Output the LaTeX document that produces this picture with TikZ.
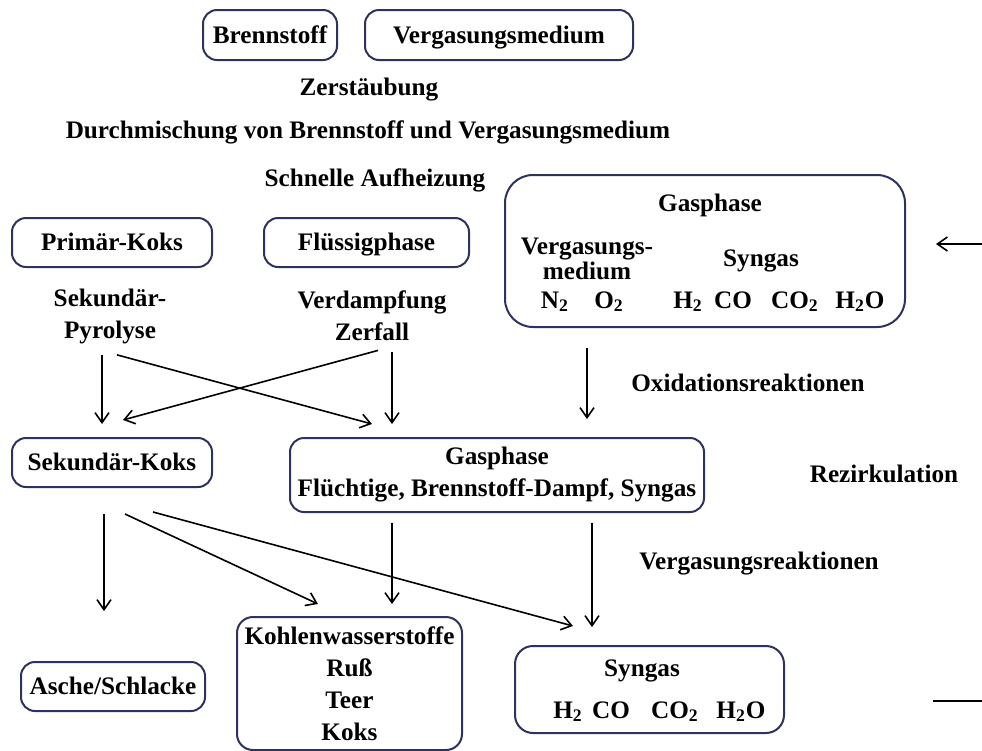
\documentclass[tikz,border=0pt]{standalone}
\usepackage{fontspec}
\setmainfont{Liberation Serif}
\usetikzlibrary{arrows.meta}
\definecolor{boxcolor}{RGB}{45,50,95}

\begin{document}
\begin{tikzpicture}[x=0.5pt, y=-0.5pt, >={Straight Barb[length=5pt,width=7pt]},
  every node/.style={font=\bfseries\fontsize{12.6}{16}\selectfont, inner sep=0pt, align=center},
  single/.style={text height=8.3pt, text depth=0pt},
  stage/.style={draw=boxcolor, line width=1pt, rounded corners=7pt},
  arr/.style={->, line width=0.8pt}]
\useasboundingbox (0,0) rectangle (982,751);

% Boxes for the stages
\node[stage, single, minimum width=67pt, minimum height=25pt] (brenn) at (270,35) {Brennstoff};
\node[stage, single, minimum width=134pt, minimum height=25pt] (vmed) at (499,35) {Vergasungsmedium};
\node[stage, rounded corners=14pt, minimum width=200pt, minimum height=76pt] (gastop) at (705,251) {};
\node[stage, single, minimum width=100pt, minimum height=24.5pt] (primkoks) at (112,242.5) {Primär-Koks};
\node[stage, single, minimum width=102.5pt, minimum height=24.5pt] (fluessig) at (366.5,242.5) {Flüssigphase};
\node[stage, single, minimum width=100pt, minimum height=24.5pt] (sekkoks) at (112,462.5) {Sekundär-Koks};
\node[stage, minimum width=207pt, minimum height=37pt] (gasmid) at (497,475) {Gasphase\\Flüchtige, Brennstoff-Dampf, Syngas};
\node[stage, single, minimum width=92pt, minimum height=24.5pt] (asche) at (113,686.5) {Asche/Schlacke};
\node[stage, rounded corners=8pt, minimum width=112.5pt, minimum height=66.5pt] (kw) at (349.5,683.5) {Kohlenwasserstoffe\\Ruß\\Teer\\Koks};
\node[stage, rounded corners=9pt, minimum width=134.5pt, minimum height=43.5pt] (synbot) at (649.5,689.5) {};

% Contents of the upper gas phase
\node[single] (gastitle) at (710,203) {Gasphase};
\node[font=\bfseries\fontsize{12.6}{12.5}\selectfont] (vmedlbl) at (587,259) {Vergasungs-\\medium};
\node[single] (synlbl) at (761,258) {Syngas};
\node[anchor=base] (n2) at (555,308) {N\textsubscript{2}};
\node[anchor=base] (o2) at (609,308) {O\textsubscript{2}};
\node[anchor=base] (h2a) at (688,308) {H\textsubscript{2}};
\node[anchor=base] (coa) at (733,308) {CO};
\node[anchor=base] (co2a) at (795,308) {CO\textsubscript{2}};
\node[anchor=base] (h2oa) at (860,308) {H\textsubscript{2}O};

% Contents of the syngas box
\node[single] (syntitle) at (642,668) {Syngas};
\node[anchor=base] (h2b) at (568,718) {H\textsubscript{2}};
\node[anchor=base] (cob) at (611,718) {CO};
\node[anchor=base] (co2b) at (675,718) {CO\textsubscript{2}};
\node[anchor=base] (h2ob) at (741,718) {H\textsubscript{2}O};

% Process steps
\node[single] (zerst) at (369,87) {Zerstäubung};
\node[single] (mischung) at (368,130) {Durchmischung von Brennstoff und Vergasungsmedium};
\node[single] (aufheiz) at (375,178) {Schnelle Aufheizung};
\node (pyro) at (110,316) {Sekundär-\\Pyrolyse};
\node (zerfall) at (372,316) {Verdampfung\\Zerfall};
\node[single] (oxid) at (748,383) {Oxidationsreaktionen};
\node[single] (rezirk) at (884,474) {Rezirkulation};
\node[single] (vergas) at (759,561) {Vergasungsreaktionen};

% Arrows
\draw[arr] ([shift={(-8,11)}]pyro.south) -- ([shift={(-10,-13)}]sekkoks.north);
\draw[arr] ([shift={(7,11)}]pyro.south) -- ([shift={(-125,-13)}]gasmid.north);
\draw[arr] ([shift={(6,9)}]zerfall.south) -- ([shift={(11,-17)}]sekkoks.north);
\draw[arr] ([shift={(20,11)}]zerfall.south) -- ([shift={(-105,-13)}]gasmid.north);
\draw[arr] ([shift={(-118,20)}]gastop.south) -- ([shift={(90,-18)}]gasmid.north);
\draw[arr] ([shift={(-8,26)}]sekkoks.south) -- ([shift={(-9,-50)}]asche.north);
\draw[arr] ([shift={(13,26)}]sekkoks.south) -- ([shift={(-31.5,-12)}]kw.north);
\draw[arr] ([shift={(41,24)}]sekkoks.south) -- ([shift={(-76.5,-19)}]synbot.north);
\draw[arr] ([shift={(-105,10)}]gasmid.south) -- ([shift={(42.5,-12)}]kw.north);
\draw[arr] ([shift={(95,10)}]gasmid.south) -- ([shift={(-57.5,-18)}]synbot.north);

% Recirculation ends
\coordinate (rezin) at (982,244);
\coordinate (rezout) at (982,701);
\draw[arr] (rezin) -- ([shift={(30,-7)}]gastop.east);
\draw[line width=0.8pt] ([shift={(148,11.5)}]synbot.east) -- (rezout);
\end{tikzpicture}
\end{document}
